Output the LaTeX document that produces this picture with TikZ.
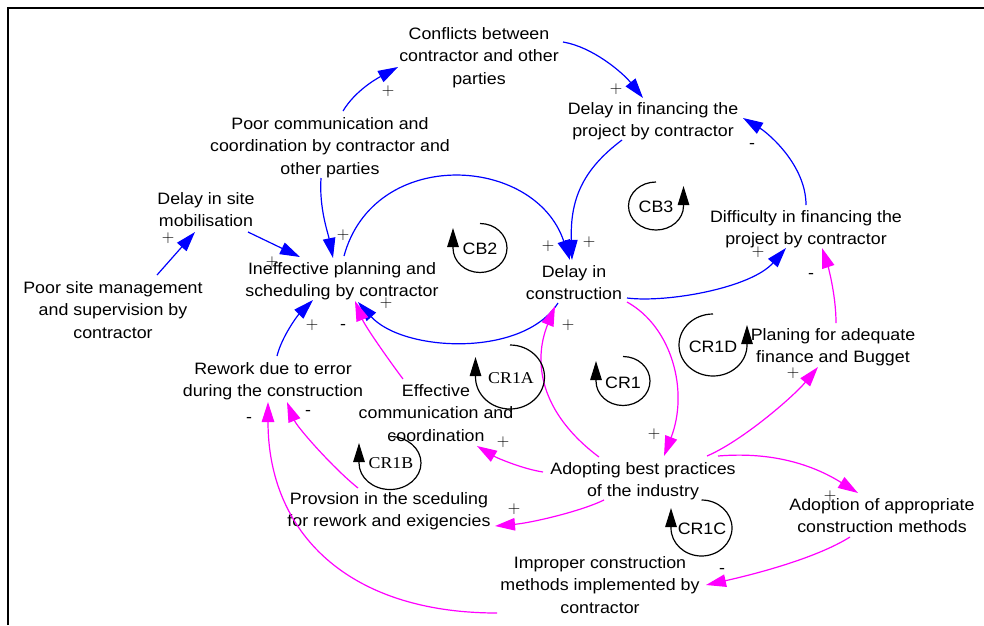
\documentclass[tikz,border=0pt]{standalone}
\usepackage{fontspec}
\setmainfont{Liberation Sans}[FakeStretch=1.08]
\newfontfamily\crserif{Liberation Serif}[FakeStretch=1.08]
\usetikzlibrary{arrows.meta}
\definecolor{cblue}{RGB}{0,0,255}
\definecolor{cmag}{RGB}{255,0,255}
\newcommand\cwloop[5]{% cx cy rx ry
  \draw[loopl] (#1,#2) ++(0,-#4) arc[start angle=-90, end angle=180, x radius=#3, y radius=#4] -- ++(0,-20);}
\newcommand\ccwloop[5]{%
  \draw[loopl] (#1,#2) ++(0,-#4) arc[start angle=-90, end angle=-360, x radius=#3, y radius=#4] -- ++(0,-20);}
\begin{document}
\begin{tikzpicture}[x=1pt,y=-1pt,
  var/.style={align=center, inner sep=0pt, font=\fontsize{16.5}{22.5}\selectfont,
    execute at begin node=\strut, execute at end node=\strut},
  lnk/.style={line width=1.2pt, -{Triangle[length=20pt,width=12.5pt]}},
  bl/.style={lnk, color=cblue},
  mg/.style={lnk, color=cmag},
  pol/.style={inner sep=0pt, font=\fontsize{16.5}{16.5}\selectfont},
  loopl/.style={line width=1.2pt, black, -{Triangle[length=19pt,width=11.5pt]}},
  lbl/.style={inner sep=0pt, font=\fontsize{16.5}{16.5}\selectfont},
  lbls/.style={inner sep=0pt, font=\fontsize{16.5}{16.5}\crserif},
]
\useasboundingbox (0,0) rectangle (984,625);
\fill[white] (0,0) rectangle (984,625);
\draw[line width=2pt] (7.8,625) -- (7.8,7.8) -- (984,7.8);

% variables
\node[var] (conf) at (479,59) {Conflicts between\\contractor and other\\parties};
\node[var] (pc) at (330,149) {Poor communication and\\coordination by contractor and\\other parties};
\node[var] (dsm) at (206,213) {Delay in site\\mobilisation};
\node[var] (psm) at (113,313) {Poor site management\\and supervision by\\contractor};
\node[var] (ineff) at (342,283) {Ineffective planning and\\scheduling by contractor};
\node[var] (dfin) at (653,123) {Delay in financing the\\project by contractor};
\node[var] (diff) at (806,231) {Difficulty in financing the\\project by contractor};
\node[var] (dcon) at (574,286) {Delay in\\construction};
\node[var] (rew) at (273,383) {Rework due to error\\during the construction};
\node[var] (eff) at (436,416) {Effective\\communication and\\coordination};
\node[var] (prov) at (389,513) {Provsion in the sceduling\\for rework and exigencies};
\node[var] (adopt) at (643,483) {Adopting best practices\\of the industry};
\node[var] (plan) at (833,349) {Planing for adequate\\finance and Bugget};
\node[var] (aoa) at (882,519) {Adoption of appropriate\\construction methods};
\node[var] (imp) at (600,588) {Improper construction\\methods implemented by\\contractor};

% blue links
\draw[bl] ([shift={(13,-38)}]pc.center) .. controls +(12,-20) and +(-22,12) .. ([shift={(-81,8)}]conf.center);
\draw[bl] ([shift={(84,-17)}]conf.center) .. controls +(30,5) and +(-20,-25) .. ([shift={(-10,-25)}]dfin.center);
\draw[bl] ([shift={(-9,29)}]pc.center) .. controls +(-2,30) and +(-5,-25) .. ([shift={(-9,-25)}]ineff.center);
\draw[bl] ([shift={(42,19)}]dsm.center) -- ([shift={(-42,-26)}]ineff.center);
\draw[bl] ([shift={(44,-38)}]psm.center) -- ([shift={(-11,19)}]dsm.center);
\draw[bl] ([shift={(2,-27)}]ineff.center) .. controls +(30,-110) and +(-35,-105) .. ([shift={(-4,-26)}]dcon.center);
\draw[bl] ([shift={(-31,17)}]dfin.center) .. controls +(-40,30) and +(-2,-60) .. ([shift={(-2,-26)}]dcon.center);
\draw[bl] ([shift={(-16,17)}]dcon.center) .. controls +(-35,55) and +(45,50) .. ([shift={(16,19)}]ineff.center);
\draw[bl] ([shift={(53,12)}]dcon.center) .. controls +(40,5) and +(-35,40) .. ([shift={(-20,17)}]diff.center);
\draw[bl] ([shift={(0,-26)}]diff.center) .. controls +(0,-40) and +(25,15) .. ([shift={(90,-5)}]dfin.center);
\draw[bl] ([shift={(4,-27)}]rew.center) .. controls +(5,-20) and +(-15,15) .. ([shift={(-29,17)}]ineff.center);

% magenta links
\draw[mg] ([shift={(-33,-37)}]eff.center) .. controls +(-15,-20) and +(10,25) .. ([shift={(13,18)}]ineff.center);
\draw[mg] ([shift={(-31,-25)}]prov.center) .. controls +(-25,-20) and +(10,25) .. ([shift={(14,19)}]rew.center);
\draw[mg] ([shift={(-103,25)}]imp.center) .. controls +(-150,0) and +(0,130) .. ([shift={(-5,19)}]rew.center);
\draw[mg] ([shift={(-100,-11)}]adopt.center) .. controls +(-20,-3) and +(20,12) .. ([shift={(41,30)}]eff.center);
\draw[mg] ([shift={(-39,17)}]adopt.center) .. controls +(-25,12) and +(35,-3) .. ([shift={(106,13)}]prov.center);
\draw[mg] ([shift={(-44,-26)}]adopt.center) .. controls +(-60,-45) and +(-22,55) .. ([shift={(-19,20)}]dcon.center);
\draw[mg] ([shift={(53,16)}]dcon.center) .. controls +(45,25) and +(25,-65) .. ([shift={(21,-27)}]adopt.center);
\draw[mg] ([shift={(64,-27)}]adopt.center) .. controls +(35,-15) and +(-25,30) .. ([shift={(-15,18)}]plan.center);
\draw[mg] ([shift={(3,-26)}]plan.center) .. controls +(0,-30) and +(5,15) .. ([shift={(16,17)}]diff.center);
\draw[mg] ([shift={(75,-27)}]adopt.center) .. controls +(60,-5) and +(-40,-25) .. ([shift={(-24,-26)}]aoa.center);
\draw[mg] ([shift={(-32,18)}]aoa.center) .. controls +(-35,22) and +(45,-10) .. ([shift={(106,-3)}]imp.center);

% polarities
\node[pol] (p1) at (388,91) {$+$};
\node[pol] (p2) at (616,89) {$+$};
\node[pol] (p3) at (343,235) {$+$};
\node[pol] (p4) at (272,262) {$+$};
\node[pol] (p5) at (168,238) {$+$};
\node[pol] (p6) at (548,246) {$+$};
\node[pol] (p7) at (589,242) {$+$};
\node[pol] (p8) at (386,303) {$+$};
\node[pol] (p9) at (758,252) {$+$};
\node[pol] (p10) at (752,146) {-};
\node[pol] (p11) at (312,325) {$+$};
\node[pol] (p12) at (343,327) {-};
\node[pol] (p13) at (308,413) {-};
\node[pol] (p14) at (249,420) {-};
\node[pol] (p15) at (503,442) {$+$};
\node[pol] (p16) at (514,509) {$+$};
\node[pol] (p17) at (568,325) {$+$};
\node[pol] (p18) at (654,434) {$+$};
\node[pol] (p19) at (793,373) {$+$};
\node[pol] (p20) at (811,276) {-};
\node[pol] (p21) at (830,496) {$+$};
\node[pol] (p22) at (722,571) {-};

% loop markers
\cwloop{480}{248}{27}{24.5}{}
\node[lbl] (cb2) at (480,249) {CB2};
\ccwloop{656}{206}{27.5}{24}{}
\node[lbl] (cb3) at (656,207) {CB3};
\cwloop{510}{377}{34.5}{32}{}
\node[lbls] (cr1a) at (511,378) {CR1A};
\cwloop{623}{381}{27}{24.5}{}
\node[lbl] (cr1) at (623,383) {CR1};
\ccwloop{713}{345}{34}{31}{}
\node[lbl] (cr1d) at (713,347) {CR1D};
\cwloop{390}{463}{31}{26.5}{}
\node[lbls] (cr1b) at (391,463) {CR1B};
\cwloop{701.5}{528}{30.5}{28}{}
\node[lbl] (cr1c) at (702,529) {CR1C};
\end{tikzpicture}
\end{document}
